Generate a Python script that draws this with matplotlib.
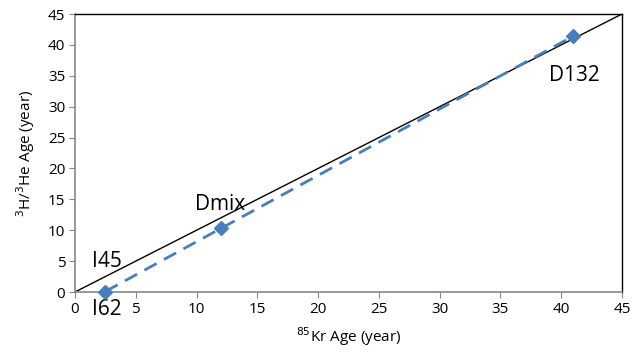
import numpy as np
import matplotlib.pyplot as plt

plt.rcParams['font.family'] = ['Open Sans', 'DejaVu Sans']

# sample ages (years)
names = ["I62", "Dmix", "D132"]
kr_age = [2.5, 12.0, 41.0]
he_age = [0.0, 10.4, 41.4]
ticks = list(range(0, 50, 5))

fig = plt.figure(figsize=(6.44, 3.62), dpi=100)
ax = fig.add_axes([75/644, 1 - 292/362, (622-75)/644, (292-14)/362])

# 1:1 line
ax.plot([0, 45], [0, 45], color="black", lw=1)

# linear trend through the samples
k, b = np.polyfit(kr_age, he_age, 1)
xs = np.array([min(kr_age), max(kr_age)])
ax.plot(xs, k * xs + b, color="#4a7ebb", lw=2, ls=(0, (5, 3)))
ax.plot(kr_age, he_age, "D", color="#4a7ebb", ms=7, clip_on=False, zorder=5)

ax.set_xlim(0, 45)
ax.set_ylim(0, 45)
ax.set_xticks(ticks)
ax.set_yticks(ticks)
ax.tick_params(labelsize=11, length=4, color="#868686", pad=3)

for s in ["left", "bottom"]:
    ax.spines[s].set_color("#868686")
    ax.spines[s].set_linewidth(1.2)
for s in ["top", "right"]:
    ax.spines[s].set_color("black")
    ax.spines[s].set_linewidth(1)

ax.set_xlabel("$^{85}$Kr Age (year)", fontsize=11, labelpad=6)
ax.set_ylabel("$^{3}$H/$^{3}$He Age (year)", fontsize=11, labelpad=8)

lbl = dict(fontsize=15, color="black")
ax.text(1.4, 4.0, "I45", **lbl)
ax.text(1.4, -1.2, "I62", va="top", **lbl)
ax.text(9.9, 13.3, "Dmix", **lbl)
ax.text(39.0, 34.2, "D132", **lbl)

fig.savefig("out.png", dpi=100)
